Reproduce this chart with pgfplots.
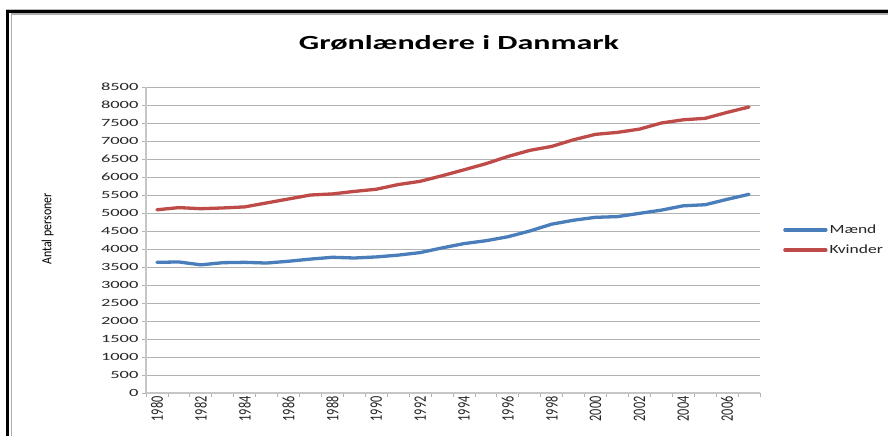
\documentclass[border=0pt]{standalone}
\usepackage{pgfplots}
\usepackage{pgfplotstable}
\pgfplotsset{compat=1.18}
\usepackage{fontspec}
\setmainfont{Carlito}
\newfontfamily\titlefont[FakeStretch=1.6]{Carlito}
\newfontfamily\ytfont[FakeStretch=1.68]{Carlito}
\newfontfamily\xtfont[FakeStretch=0.7]{Carlito}
\newfontfamily\ylfont[FakeStretch=0.85]{Carlito}
\newfontfamily\legfont[FakeStretch=1.4]{Carlito}
\definecolor{mblue}{HTML}{4A7EBB}
\definecolor{kred}{HTML}{BE4B48}
\pgfplotstableread{
year maend kvinder
1980 3630 5090
1981 3640 5150
1982 3560 5120
1983 3620 5140
1984 3630 5170
1985 3610 5280
1986 3660 5390
1987 3720 5500
1988 3770 5530
1989 3750 5600
1990 3780 5660
1991 3830 5790
1992 3900 5880
1993 4030 6035
1994 4150 6200
1995 4230 6370
1996 4340 6570
1997 4500 6740
1998 4690 6850
1999 4800 7035
2000 4880 7185
2001 4900 7240
2002 4990 7330
2003 5080 7500
2004 5200 7590
2005 5230 7630
2006 5380 7795
2007 5520 7945
}\data
\begin{document}
\begin{tikzpicture}
\path[use as bounding box] (0pt,0pt) rectangle (888pt,-436pt);
% frame
\draw[gray!55, line width=0.9pt] (6pt,-9.3pt) -- (888pt,-9.3pt);
\draw[black, line width=3.3pt] (6pt,-11.7pt) -- (888pt,-11.7pt);
\draw[black, line width=3.3pt] (7.7pt,-10pt) -- (7.7pt,-436pt);
\draw[gray!65, line width=1.2pt] (11.7pt,-14pt) -- (888pt,-14pt);
\draw[gray!65, line width=1.2pt] (11.7pt,-13.4pt) -- (11.7pt,-436pt);
\node[font=\titlefont\bfseries\fontsize{20}{20}\selectfont, anchor=base] at (459pt,-49.3pt) {Grønlændere i Danmark};
\begin{axis}[
  at={(146pt,-393pt)}, anchor=south west,
  scale only axis, width=614pt, height=306pt,
  xmin=1979.5, xmax=2007.5, ymin=0, ymax=8500,
  axis x line*=bottom, axis y line*=left,
  axis line style={gray!45, line width=1.5pt},
  /pgf/number format/.cd, 1000 sep={}, assume math mode=true, /pgfplots/.cd,
  ytick={0,500,...,8500},
  xtick={1979.5,1980.5,...,2007.5},
  xticklabels={},
  extra x ticks={1980,1982,...,2006},
  extra x tick style={major tick length=0pt},
  tick align=outside,
  major tick length=4pt,
  tick style={gray!60, line width=0.8pt},
  ymajorgrids,
  grid style={gray!60, line width=0.8pt},
  yticklabel style={font=\ytfont\fontsize{11}{11}\selectfont, text=black!85},
  xticklabel style={font=\xtfont\fontsize{17.5}{17.5}\selectfont, rotate=90, anchor=east, text=black!85},
  ylabel={Antal personer},
  ylabel style={font=\ylfont\fontsize{14}{14}\selectfont, at={(axis description cs:-0.16,0.536)}, anchor=center},
  legend style={at={(axis description cs:1.0375,0.5)}, anchor=west, draw=none, fill=none,
    font=\legfont\fontsize{12.5}{12.5}\selectfont, row sep=6pt, inner sep=0pt, text=black!85},
  legend cell align=left,
  legend image code/.code={\draw[#1] (0pt,0pt) -- (41pt,0pt);},
]
\addplot[mblue, line width=3.3pt, line join=round, line cap=round] table[x=year, y=maend] {\data};
\addlegendentry{Mænd}
\addplot[kred, line width=3.3pt, line join=round, line cap=round] table[x=year, y=kvinder] {\data};
\addlegendentry{Kvinder}
\end{axis}
\end{tikzpicture}
\end{document}
